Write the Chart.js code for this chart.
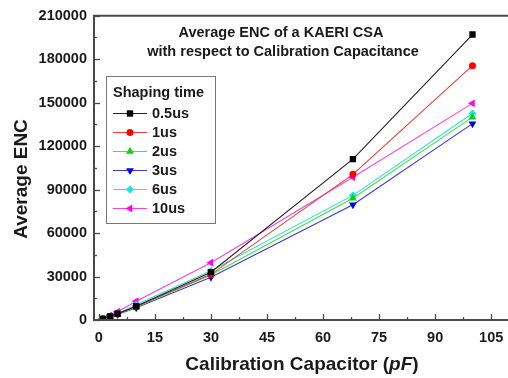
<!DOCTYPE html>
<html>
<head>
<meta charset="utf-8">
<script src="https://cdn.jsdelivr.net/npm/chart.js@4/dist/chart.umd.min.js"></script>
<style>
  html, body { margin: 0; padding: 0; background: #fff; }
  #wrap { width: 508px; height: 378px; }
</style>
</head>
<body>
<div id="wrap"><canvas id="chart"></canvas></div>
<script>
const capacitance = [1, 3, 5, 10, 30, 68, 100];
const enc05us = [800, 2500, 4300, 9500, 33000, 111000, 197000];
const enc1us = [800, 2400, 4200, 9300, 31500, 100500, 175500];
const enc2us = [750, 2300, 4000, 9000, 31000, 84000, 140000];
const enc3us = [700, 2200, 3800, 8500, 29500, 79500, 135500];
const enc6us = [800, 2500, 4500, 10500, 34000, 86000, 142500];
const enc10us = [1000, 3200, 5700, 13000, 39500, 98500, 149500];
const seriesNames = ['0.5us', '1us', '2us', '3us', '6us', '10us'];
const xTickLabels = [0, 15, 30, 45, 60, 75, 90, 105];
const yTickLabels = [0, 30000, 60000, 90000, 120000, 150000, 180000, 210000];

const FONT = "'Liberation Sans', Arial, sans-serif";
const TEXT = '#1a1a1a';

const styles = [
  { color: '#000000', line: '#222222', point: 'rect', radius: 4.5, rotation: 0 },
  { color: '#ff0000', line: '#e8403a', point: 'circle', radius: 3.5, rotation: 0 },
  { color: '#00d800', line: '#44e044', point: 'triangle', radius: 4.5, rotation: 0 },
  { color: '#0000f0', line: '#3a3ad0', point: 'triangle', radius: 4.5, rotation: 180 },
  { color: '#10e8e8', line: '#30e0e0', point: 'rectRot', radius: 4, rotation: 0 },
  { color: '#ff00ff', line: '#ee44ee', point: 'triangle', radius: 4.5, rotation: -90 },
];

const seriesValues = [enc05us, enc1us, enc2us, enc3us, enc6us, enc10us];

const datasets = seriesValues.map((vals, i) => ({
  label: seriesNames[i],
  data: capacitance.map((c, j) => ({ x: c, y: vals[j] })),
  showLine: true,
  borderColor: styles[i].line,
  borderWidth: 1.1,
  backgroundColor: styles[i].color,
  pointBackgroundColor: styles[i].color,
  pointBorderColor: styles[i].color,
  pointBorderWidth: 0,
  pointStyle: styles[i].point,
  pointRadius: styles[i].radius,
  pointRotation: styles[i].rotation,
}));

// frame with inward tick marks
const axisFrame = {
  id: 'axisFrame',
  afterDatasetsDraw(chart) {
    const { ctx, chartArea: a, scales: { x, y } } = chart;
    ctx.save();
    ctx.strokeStyle = '#4a4a4a';
    ctx.lineWidth = 1.3;
    x.ticks.forEach((t) => {
      const px = Math.round(x.getPixelForValue(t.value)) + 0.5;
      const len = t.label ? 6 : 3;
      ctx.beginPath();
      ctx.moveTo(px, a.bottom);
      ctx.lineTo(px, a.bottom - len);
      ctx.stroke();
    });
    y.ticks.forEach((t) => {
      const py = Math.round(y.getPixelForValue(t.value)) + 0.5;
      const len = t.label ? 6 : 3;
      ctx.beginPath();
      ctx.moveTo(a.left, py);
      ctx.lineTo(a.left + len, py);
      ctx.stroke();
    });
    ctx.lineWidth = 2;
    ctx.beginPath();
    ctx.moveTo(chart.width, a.top);
    ctx.lineTo(a.left, a.top);
    ctx.lineTo(a.left, a.bottom);
    ctx.lineTo(chart.width, a.bottom);
    ctx.stroke();
    ctx.restore();
  },
};

// titles and boxed legend
const annotations = {
  id: 'annotations',
  afterDraw(chart) {
    const { ctx } = chart;
    ctx.save();
    ctx.fillStyle = TEXT;

    ctx.font = `bold 14.5px ${FONT}`;
    ctx.textAlign = 'center';
    ctx.textBaseline = 'alphabetic';
    ctx.fillText('Average ENC of a KAERI CSA', 281, 37);
    ctx.fillText('with respect to Calibration Capacitance', 283, 56);

    // y title
    ctx.save();
    ctx.font = `bold 19px ${FONT}`;
    ctx.translate(27, 179);
    ctx.rotate(-Math.PI / 2);
    ctx.fillText('Average ENC', 0, 0);
    ctx.restore();

    // x title with italic pF
    const parts = [
      ['Calibration Capacitor (', 'bold'],
      ['pF', 'italic bold'],
      [')', 'bold'],
    ];
    let total = 0;
    parts.forEach((p) => {
      ctx.font = `${p[1]} 19px ${FONT}`;
      total += ctx.measureText(p[0]).width;
    });
    let cx = 302 - total / 2;
    ctx.textAlign = 'left';
    parts.forEach((p) => {
      ctx.font = `${p[1]} 19px ${FONT}`;
      ctx.fillText(p[0], cx, 370);
      cx += ctx.measureText(p[0]).width;
    });

    // legend box
    ctx.fillStyle = '#fff';
    ctx.fillRect(106, 76, 109, 147);
    ctx.strokeStyle = '#777';
    ctx.lineWidth = 1;
    ctx.strokeRect(106.5, 76.5, 109, 147);
    ctx.fillStyle = TEXT;
    ctx.font = `bold 14.5px ${FONT}`;
    ctx.fillText('Shaping time', 113, 97);
    chart.data.datasets.forEach((ds, i) => {
      const cy = 113 + i * 19;
      ctx.strokeStyle = ds.borderColor;
      ctx.lineWidth = 1.1;
      ctx.beginPath();
      ctx.moveTo(113, cy + 0.5);
      ctx.lineTo(147, cy + 0.5);
      ctx.stroke();
      ctx.fillStyle = ds.pointBackgroundColor;
      ctx.strokeStyle = ds.pointBorderColor;
      Chart.helpers.drawPoint(ctx, {
        pointStyle: ds.pointStyle,
        radius: ds.pointRadius,
        rotation: ds.pointRotation,
        borderWidth: 0,
      }, 130, cy + 0.5);
      ctx.fillStyle = TEXT;
      ctx.fillText(ds.label, 152, cy + 5);
    });
    ctx.restore();
  },
};

new Chart(document.getElementById('chart'), {
  type: 'scatter',
  data: { datasets },
  options: {
    responsive: true,
    maintainAspectRatio: false,
    animation: false,
    layout: { padding: { top: 14, left: 0, right: 0, bottom: 0 } },
    plugins: {
      legend: { display: false },
      tooltip: { enabled: false },
    },
    scales: {
      x: {
        type: 'linear',
        min: -1.3,
        max: 108.3,
        afterFit: (scale) => {
          scale.height = 58;
          scale.paddingLeft = 0;
          scale.paddingRight = 0;
        },
        grid: { display: false, drawTicks: false },
        border: { display: false },
        ticks: {
          stepSize: 7.5,
          includeBounds: false,
          maxRotation: 0,
          autoSkip: false,
          padding: 9,
          color: TEXT,
          font: { family: FONT, size: 14.5, weight: 'bold' },
          callback: (v) => (xTickLabels.includes(v) ? String(v) : ''),
        },
      },
      y: {
        type: 'linear',
        min: 0,
        max: 210000,
        afterFit: (scale) => { scale.width = 94; },
        grid: { display: false, drawTicks: false },
        border: { display: false },
        ticks: {
          stepSize: 15000,
          autoSkip: false,
          padding: 7,
          color: TEXT,
          font: { family: FONT, size: 14.5, weight: 'bold' },
          callback: (v) => (yTickLabels.includes(v) ? String(v) : ''),
        },
      },
    },
  },
  plugins: [axisFrame, annotations],
});
</script>
</body>
</html>
